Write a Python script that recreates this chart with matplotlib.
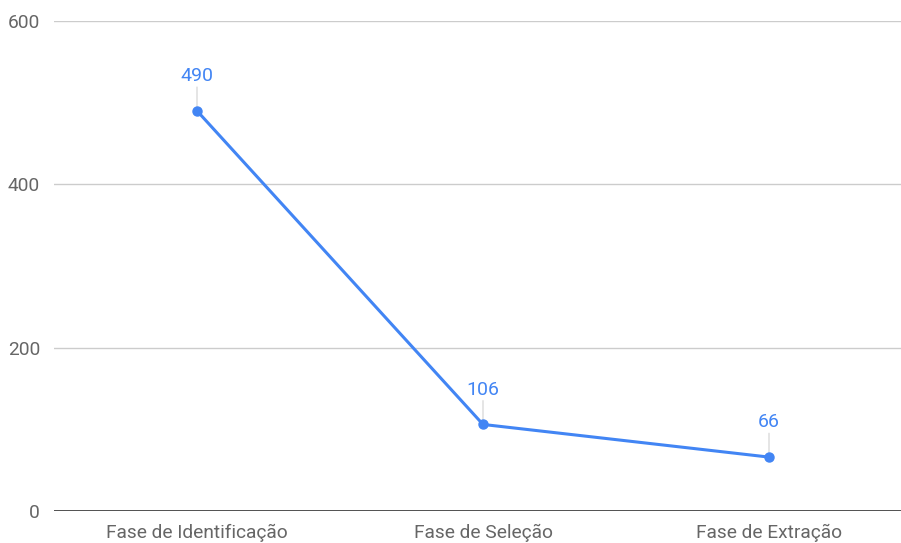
import matplotlib
matplotlib.use("Agg")
import matplotlib.pyplot as plt

categories = ["Fase de Identificação", "Fase de Seleção", "Fase de Extração"]
values = [490, 106, 66]
yticks = [0, 200, 400, 600]

plt.rcParams['font.family'] = ['Roboto', 'DejaVu Sans']

W, H = 901, 543
fig = plt.figure(figsize=(W/100, H/100), dpi=100)
ax = fig.add_axes([54/W, (H-511)/H, (W-54)/W, 490/H])

x = list(range(len(categories)))
color = "#4285F4"

for yt in yticks[1:]:
    ax.axhline(yt, color="#cccccc", lw=1.0, zorder=0)
ax.axhline(0, color="#333333", lw=1.2, zorder=1)

ax.plot(x, values, color=color, lw=2.2, marker="o", ms=6.5, zorder=3, solid_capstyle="round")

for xi, v in zip(x, values):
    ax.annotate("", xy=(xi, v), xytext=(0, 17), textcoords="offset points",
                arrowprops=dict(arrowstyle="-", color="#e0e0e0", lw=1.2, shrinkA=0, shrinkB=0), zorder=2)
    ax.annotate(str(v), xy=(xi, v), xytext=(0, 25), textcoords="offset points",
                ha="center", va="center", color=color, fontsize=14, zorder=4)

ax.set_xlim(-0.5, (W-197)/286)
ax.set_ylim(0, 600)
ax.set_yticks(yticks)
ax.set_yticklabels([str(t) for t in yticks])
ax.set_xticks(x)
ax.set_xticklabels(categories)
ax.tick_params(axis="both", length=0, colors="#666666", labelsize=13.8)
ax.tick_params(axis="y", pad=10)
ax.tick_params(axis="x", pad=9)
for s in ax.spines.values():
    s.set_visible(False)
ax.set_facecolor("white")

fig.savefig("out.png", dpi=100)
